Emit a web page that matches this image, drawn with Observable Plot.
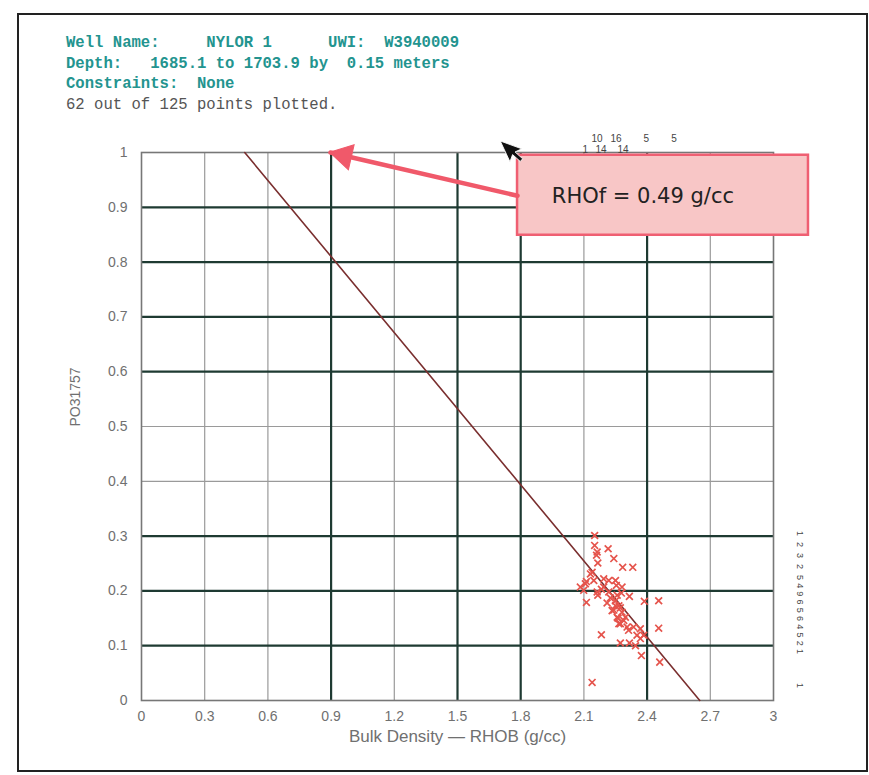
<!DOCTYPE html>
<html>
<head>
<meta charset="utf-8">
<script src="https://cdn.jsdelivr.net/npm/d3@7"></script>
<script src="https://cdn.jsdelivr.net/npm/@observablehq/plot@0.6"></script>
<style>
  html, body { margin: 0; padding: 0; background: #fff; }
  #page { position: relative; width: 869px; height: 775px; overflow: hidden; background: #fff; }
  #frame { position: absolute; left: 17px; top: 13px; width: 847px; height: 755px; border: 2px solid #222; box-sizing: content-box; }
  #header { position: absolute; left: 66px; top: 33px; font-family: "Liberation Mono", "DejaVu Sans Mono", monospace; font-size: 15.6px; line-height: 20.5px; white-space: pre; }
  #header .t { color: #23948f; font-weight: bold; }
  #header .g { color: #555; }
  #chart { position: absolute; left: 0; top: 0; }
</style>
</head>
<body>
<div id="page">
  <div id="frame"></div>
  <div id="chart"></div>
  <div id="header"></div>
</div>
<script>
// ---- data ----
const headerLines = [
  "Well Name:     NYLOR 1      UWI:  W3940009",
  "Depth:   1685.1 to 1703.9 by  0.15 meters",
  "Constraints:  None",
  "62 out of 125 points plotted."
];
const xTicks = [0, 0.3, 0.6, 0.9, 1.2, 1.5, 1.8, 2.1, 2.4, 2.7, 3];
const yTicks = [0, 0.1, 0.2, 0.3, 0.4, 0.5, 0.6, 0.7, 0.8, 0.9, 1];
const xTitle = ["Bulk Density \u2014 RHOB (g/cc)"];
const yTitle = ["PO31757"];
const xGridDark = [0.9, 1.5, 1.8, 2.4];
const xGridLight = [0.3, 0.6, 1.2, 2.1, 2.7];
const yGridDark = [0.1, 0.2, 0.3, 0.6, 0.7, 0.8, 0.9];
const yGridLight = [0.4, 0.5];

const rhob = [2.151,2.151,2.215,2.163,2.160,2.242,2.166,2.284,2.332,2.112,2.139,2.194,2.218,2.250,2.254,2.083,
  2.099,2.163,2.183,2.166,2.278,2.316,2.112,2.210,2.250,2.266,2.387,2.455,2.242,2.281,2.258,2.297,2.273,2.305,
  2.336,2.455,2.183,2.368,2.384,2.273,2.316,2.345,2.368,2.373,2.460,2.139,2.107,2.281,2.226,2.258,2.289,2.250,
  2.234,2.273,2.194,2.147,2.131,2.312,2.266,2.218,2.262,2.352];
const por = [0.301,0.283,0.277,0.271,0.265,0.259,0.251,0.243,0.243,0.217,0.234,0.222,0.219,0.219,0.210,0.207,
  0.201,0.198,0.203,0.192,0.196,0.190,0.179,0.178,0.182,0.173,0.181,0.182,0.165,0.161,0.152,0.152,0.140,0.134,
  0.134,0.132,0.120,0.131,0.119,0.105,0.105,0.100,0.113,0.082,0.070,0.033,0.213,0.207,0.187,0.192,0.146,0.173,
  0.164,0.169,0.207,0.219,0.231,0.128,0.140,0.198,0.150,0.119];

const lineRho = [0.49, 2.65];
const linePor = [1, 0];

// marginal counts
const topBinX = [2.093, 2.136, 2.155, 2.226, 2.259, 2.383, 2.515];
const topCount = ["1", "10", "14", "16", "14", "5", "5"];
const topRaised = [false, true, false, true, false, true, true];
const rightBinY = [0.30, 0.28, 0.26, 0.24, 0.22, 0.205, 0.19, 0.175, 0.16, 0.145, 0.13, 0.115, 0.10, 0.085, 0.023];
const rightCount = ["1", "2", "3", "2", "5", "4", "9", "6", "5", "6", "4", "5", "2", "1", "1"];

// annotation
const noteText = ["RHOf = 0.49 g/cc"];
const boxX = [1.785, 3.166];
const boxY = [0.849, 0.995];
const noteAt = [2.38, 0.921];
const arrowFrom = [1.785, 0.921];
const arrowTo = [0.897, 1.0];
const cursorAt = [1.703, 1.021];

// ---- build ----
document.getElementById("header").innerHTML = headerLines
  .map((s, i) => `<div class="${i < 3 ? "t" : "g"}">${s}</div>`).join("");

const pts = rhob.map((x, i) => ({x, y: por[i]}));
const fitLine = lineRho.map((x, i) => ({x, y: linePor[i]}));
const topLabels = topBinX.map((x, i) => ({x, t: topCount[i], r: topRaised[i]}));
const rightLabels = rightBinY.map((y, i) => ({y, t: rightCount[i]}));
const arrowSeg = [{x: arrowFrom[0], y: arrowFrom[1]}, {x: arrowTo[0], y: arrowTo[1]}];

const cursorShape = [[0, 0], [0, 17], [4, 13], [7, 20], [9.5, 19], [6.5, 12], [12, 12]];
const cursorSymbol = {
  draw(ctx) {
    const k = 1.35;
    cursorShape.forEach(([px, py], i) => i ? ctx.lineTo(px * k, py * k) : ctx.moveTo(px * k, py * k));
    ctx.closePath();
  }
};

const chart = Plot.plot({
  width: 869,
  height: 775,
  marginLeft: 141,
  marginRight: 96,
  marginTop: 152,
  marginBottom: 75,
  style: { fontFamily: "Liberation Sans, Arial, sans-serif", background: "transparent" },
  x: { domain: [0, 3] },
  y: { domain: [0, 1] },
  marks: [
    Plot.ruleX(xGridLight, { stroke: "#9a9a9a", strokeWidth: 1.2 }),
    Plot.ruleY(yGridLight, { stroke: "#9a9a9a", strokeWidth: 1.2 }),
    Plot.ruleX(xGridDark, { stroke: "#1e3a32", strokeWidth: 2.2 }),
    Plot.ruleY(yGridDark, { stroke: "#1e3a32", strokeWidth: 2.2 }),
    Plot.frame({ stroke: "#777", strokeWidth: 1.6 }),
    Plot.line(fitLine, { x: "x", y: "y", stroke: "#7a2f2f", strokeWidth: 1.6 }),
    Plot.dot(pts, { x: "x", y: "y", symbol: "times", r: 3.2, stroke: "#e5544c", strokeWidth: 1.7 }),
    Plot.axisX({ ticks: xTicks, tickSize: 0, tickPadding: 11, fontSize: 14, color: "#707070",
      tickFormat: d => String(d), label: null }),
    Plot.axisY({ ticks: yTicks, tickSize: 0, tickPadding: 14, fontSize: 14, color: "#707070",
      tickFormat: d => String(d), label: null }),
    Plot.text(xTitle, { frameAnchor: "bottom", dy: 41, text: d => d, fontSize: 17, fill: "#707070" }),
    Plot.text(yTitle, { frameAnchor: "left", dx: -66, rotate: -90, text: d => d, fontSize: 14, fill: "#707070" }),
    Plot.text(topLabels, { x: "x", frameAnchor: "top", dy: -7, text: "t", fontSize: 10, fill: "#444",
      filter: d => !d.r, textAnchor: "start" }),
    Plot.text(topLabels, { x: "x", frameAnchor: "top", dy: -18, text: "t", fontSize: 10, fill: "#444",
      filter: d => d.r, textAnchor: "start" }),
    Plot.text(rightLabels, { y: "y", frameAnchor: "right", dx: 26, text: "t", fontSize: 9, fill: "#444", rotate: 90 }),
    Plot.rect([0], { x1: () => boxX[0], x2: () => boxX[1], y1: () => boxY[0], y2: () => boxY[1],
      fill: "#f8c6c6", stroke: "#ef5f72", strokeWidth: 2.5, clip: false }),
    Plot.dot([0], { x: () => cursorAt[0], y: () => cursorAt[1], symbol: cursorSymbol, r: 5, rotate: -25,
      fill: "#111", stroke: "#fff", strokeWidth: 0.8 }),
    Plot.line(arrowSeg, { x: "x", y: "y", stroke: "#f0596a", strokeWidth: 4.5 }),
    Plot.dot([0], { x: () => arrowTo[0], y: () => arrowTo[1], symbol: "triangle", r: 9.5, rotate: -77,
      dx: 13.6, dy: 3.1, fill: "#f0596a", stroke: "#f0596a", strokeWidth: 1 }),
    Plot.text(noteText, { x: () => noteAt[0], y: () => noteAt[1], text: d => d, fontSize: 21,
      fontFamily: "DejaVu Sans, Verdana, sans-serif", fill: "#222" })
  ]
});
document.getElementById("chart").appendChild(chart);
</script>
</body>
</html>
